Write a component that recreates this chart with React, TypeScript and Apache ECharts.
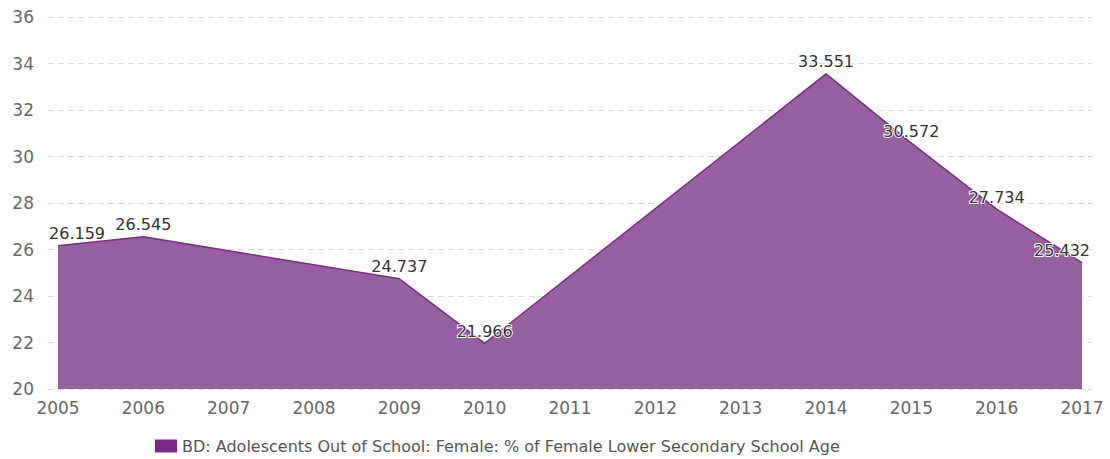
import React, { useEffect, useRef } from "react";
import * as echarts from "echarts";

const years = [2005, 2006, 2009, 2010, 2014, 2015, 2016, 2017];
const values = [26.159, 26.545, 24.737, 21.966, 33.551, 30.572, 27.734, 25.432];
const xTickYears = [2005, 2006, 2007, 2008, 2009, 2010, 2011, 2012, 2013, 2014, 2015, 2016, 2017];
const seriesName = "BD: Adolescents Out of School: Female: % of Female Lower Secondary School Age";
const yMin = 20;
const yMax = 36;
const yStep = 2;

const FONT = "DejaVu Sans";

export default function App() {
  const ref = useRef<HTMLDivElement>(null);
  useEffect(() => {
    if (!ref.current) return;
    const chart = echarts.init(ref.current, undefined, { renderer: "svg" });
    const pad = 120 / 1024;
    const data = years.map((y, i) => {
      const item: any = { value: [y, values[i]] };
      if (i === 0) item.label = { offset: [19, 0] };
      if (i === years.length - 1) item.label = { offset: [-20, 0] };
      return item;
    });
    chart.setOption({
      animation: false,
      textStyle: { fontFamily: FONT },
      grid: { left: 48, right: 18, top: 17, bottom: 70, containLabel: false },
      legend: {
        left: 150,
        bottom: 0,
        itemWidth: 22,
        itemHeight: 13,
        itemGap: 10,
        icon: "rect",
        textStyle: { color: "#555", fontSize: 16, fontFamily: FONT },
        data: [{ name: seriesName, itemStyle: { color: "#7b2a8b" } }],
      },
      xAxis: {
        type: "value",
        min: 2005 - pad,
        max: 2017 + pad,
        axisLine: { show: false },
        axisTick: { show: false },
        splitLine: { show: false },
        axisLabel: {
          customValues: xTickYears,
          color: "#666",
          fontSize: 17,
          fontFamily: FONT,
          margin: 10,
          formatter: (v: number) => String(Math.round(v)),
        },
      },
      yAxis: {
        type: "value",
        min: yMin,
        max: yMax,
        interval: yStep,
        axisLine: { show: false },
        axisTick: { show: false },
        axisLabel: { color: "#666", fontSize: 17, fontFamily: FONT, margin: 14 },
        splitLine: { lineStyle: { color: "#ddd", type: [6, 4], width: 1 } },
      },
      series: [
        {
          type: "line",
          name: seriesName,
          data,
          symbol: "circle",
          symbolSize: 0,
          showSymbol: true,
          lineStyle: { color: "#7b2c86", width: 1.5 },
          itemStyle: { color: "#7b2a8b" },
          areaStyle: { color: "#955fa0", opacity: 1, origin: "start" },
          label: {
            show: true,
            position: "top",
            distance: 4,
            color: "#333",
            fontSize: 16,
            fontFamily: FONT,
            textBorderColor: "#fff",
            textBorderWidth: 2,
            formatter: (p: any) => String(p.value[1]),
          },
        },
      ],
    });
    return () => chart.dispose();
  }, []);
  return (
    <div
      ref={ref}
      style={{ position: "fixed", left: 0, top: 0, width: 1110, height: 459, background: "#fff" }}
    />
  );
}
